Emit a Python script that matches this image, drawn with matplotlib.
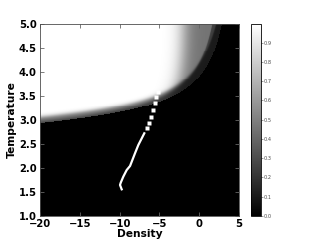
import numpy as np
import matplotlib
matplotlib.use('Agg')
import matplotlib.pyplot as plt
from matplotlib.ticker import FormatStrFormatter

plt.rcParams['font.family'] = 'DejaVu Sans'

# track of the model through (density, temperature), solid part
line_dens = [-9.74, -9.95, -9.86, -9.54, -9.11, -8.69, -8.48, -8.07, -7.65, -7.22, -6.90]
line_temp = [1.556, 1.646, 1.694, 1.819, 1.958, 2.042, 2.131, 2.306, 2.479, 2.619, 2.723]
# upper part of the track is only a row of single points
dot_dens = [-6.56, -6.27, -6.09, -5.84, -5.59, -5.46, -5.21]
dot_temp = [2.827, 2.944, 3.069, 3.208, 3.348, 3.473, 3.577]

# edge of the bright region, T = a + b*d + c/(pole - d)
edge_a, edge_b, edge_c, edge_pole = 2.896, 0.0088, 5.615, 5.5

cbar_ticks = [0.0, 0.1, 0.2, 0.3, 0.4, 0.5, 0.6, 0.7, 0.8, 0.9]


def edge(d):
    u = edge_pole - d
    return np.where(u > 0.01, edge_a + edge_b * d + edge_c / np.maximum(u, 0.01), 99)


def sig(x):
    return 1 / (1 + np.exp(-x))


dens = np.linspace(-20, 5, 200)
temp = np.linspace(1, 5, 200)
D, T = np.meshgrid(dens, temp)
F = T - edge(D)
band = 0.12 + 0.03 * np.exp((D + 5) / 3.0)
# white part rounds off towards the lower right corner
fade_mid = -2.0 - 1.2 * np.exp(-(T - 3.6) / 0.4)
fade = 0.45 + 0.55 / (1 + np.exp((D - fade_mid) / 0.6))
inside = 0.42 + 0.58 * sig((F - band) / 0.025)
dark = 1 - 0.45 * sig((edge(D + 1.2) - T) / 0.02)
Z = np.where(F > 0, fade * inside * dark, 0.0)

fig = plt.figure(figsize=(3.2, 2.4), dpi=100)
ax = fig.add_axes([0.125, 0.1, 0.622, 0.8])
mesh = ax.pcolormesh(D, T, Z, cmap='gray', vmin=0, vmax=0.997, shading='auto')
ax.plot(line_dens, line_temp, color='white', lw=1.6)
ax.plot(dot_dens, dot_temp, 's', color='white', ms=2.4, mec='none')

ax.set_xlim(-20, 5)
ax.set_ylim(1, 5)
ax.set_xticks(np.arange(-20, 6, 5))
ax.set_yticks(np.arange(1, 5.01, 0.5))
ax.yaxis.set_major_formatter(FormatStrFormatter('%.1f'))
ax.tick_params(direction='in', top=True, right=True, length=3, width=0.6,
               labelsize=7.2, pad=2.5, color='0.4')
for lab in ax.get_xticklabels() + ax.get_yticklabels():
    lab.set_fontweight('bold')
ax.set_xlabel('Density', fontsize=7.7, fontweight='bold', labelpad=0)
ax.set_ylabel('Temperature', fontsize=7.7, fontweight='bold', labelpad=1)
for sp in ax.spines.values():
    sp.set_linewidth(0.6)
    sp.set_color('0.3')

cax = fig.add_axes([0.784, 0.1, 0.031, 0.8])
cb = fig.colorbar(mesh, cax=cax, ticks=cbar_ticks)
cb.ax.yaxis.set_major_formatter(FormatStrFormatter('%.1f'))
cb.ax.tick_params(labelsize=3.6, length=1.5, width=0.4, pad=0.5, colors='0.3')
cb.outline.set_linewidth(0.6)

fig.savefig('out.png', dpi=100)
